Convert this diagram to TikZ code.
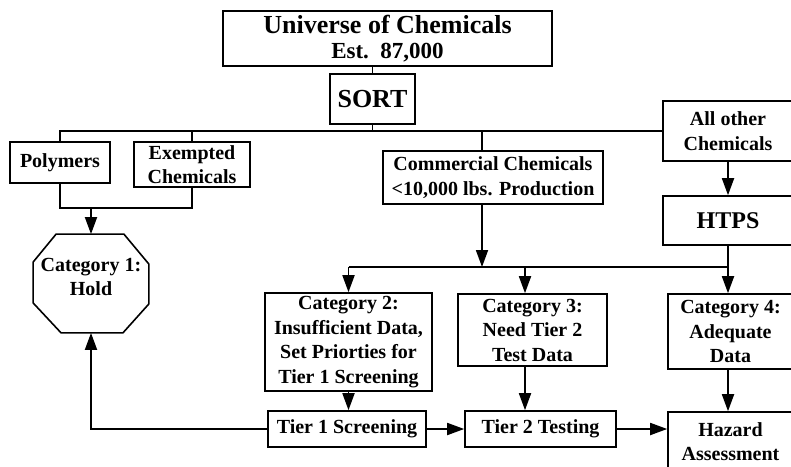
\documentclass[tikz,border=0pt]{standalone}
\usepackage{fontspec}
\setmainfont{Liberation Serif}
\usetikzlibrary{arrows.meta}

\begin{document}
\begin{tikzpicture}[x=1pt, y=-1pt, font=\bfseries\fontsize{20}{24.5}\selectfont, line width=1.8pt,
	blk/.style={draw, line width=1.6pt, inner sep=2pt, align=center},
	arr/.style={-{Triangle[length=17pt, width=12pt]}}]
		\clip (0,0) rectangle (791,466);
		\node[blk, minimum width=329pt, minimum height=55pt] (univ) at (387.5,38.5) {{\fontsize{26}{26}\selectfont Universe of Chemicals}\\{\fontsize{23}{25}\selectfont Est.\ \ 87,000}};
		\node[blk, minimum width=85pt, minimum height=50pt, font=\bfseries\fontsize{26}{26}\selectfont] (sort) at (372.5,99) {SORT};
		\node[blk, minimum width=100pt, minimum height=41pt] (poly) at (60,162.5) {Polymers};
		\node[blk, minimum width=116pt, minimum height=45pt] (exem) at (192,164.5) {Exempted\\Chemicals};
		\node[blk, minimum width=220pt, minimum height=53pt] (comm) at (493,177.5) {Commercial Chemicals\\{<}10,000 lbs. Production};
		\node[blk, minimum width=130pt, minimum height=60pt] (allo) at (728,131) {All other\\Chemicals};
		\node[blk, minimum width=130pt, minimum height=49pt, font=\bfseries\fontsize{24}{24}\selectfont] (htps) at (728,220.5) {HTPS};
		\node[inner sep=2pt, align=center, text depth=13pt, minimum width=114pt, minimum height=97pt] (oct) at (91,283.5) {Category 1:\\Hold};
		\draw[line width=1.6pt] ([xshift=23pt]oct.north west) -- ([xshift=-25pt]oct.north east) -- ([yshift=-30pt]oct.north east)
			-- ([yshift=29pt]oct.south east) -- ([xshift=-26pt]oct.south east) -- ([xshift=28pt]oct.south west)
			-- ([yshift=30pt]oct.south west) -- ([yshift=-28pt]oct.north west) -- cycle;
		\node[blk, minimum width=167pt, minimum height=98pt] (cat2) at (348.5,342) {Category 2:\\Insufficient Data,\\Set Priorties for\\Tier 1 Screening};
		\node[blk, minimum width=149pt, minimum height=72pt] (cat3) at (532.5,330) {Category 3:\\Need Tier 2\\Test Data};
		\node[blk, minimum width=125pt, minimum height=75pt] (cat4) at (730.5,331.5) {Category 4:\\Adequate\\Data};
		\node[blk, minimum width=158pt, minimum height=36pt] (tier1) at (347,429) {Tier 1 Screening};
		\node[blk, minimum width=151pt, minimum height=36pt] (tier2) at (540.5,429) {Tier 2 Testing};
		\node[blk, minimum width=125pt, minimum height=59pt] (hazard) at (730.5,441.5) {Hazard\\Assessment};
		\coordinate (pm) at (91,208);
		\coordinate (jc) at (482,131);
		\coordinate (b2) at (482,267);
		\coordinate (c3) at (525,267);
		\draw (sort.north |- univ.south) -- (sort.north);
		\draw (poly.north) |- (allo.west);
		\draw (exem.north) -- (exem.north |- allo.west);
		\draw (sort.south) -- (sort.south |- allo.west);
		\draw (comm.north -| jc) -- (jc);
		\draw (poly.south) |- (pm) -| (exem.south);
		\draw[arr] (pm) -- (oct.north);
		\draw[arr] (allo.south) -- (htps.north);
		\draw[arr] (comm.south -| b2) -- (b2);
		\draw (cat2.north |- b2) -- (htps.south |- b2) -- (htps.south);
		\draw[arr] (cat2.north |- b2) -- (cat2.north);
		\draw[arr] (c3) -- (cat3.north -| c3);
		\draw[arr] (htps.south |- b2) -- (cat4.north -| htps.south);
		\draw[arr] (cat2.south) -- (tier1.north -| cat2.south);
		\draw[arr] (cat3.south -| c3) -- (tier2.north -| c3);
		\draw[arr] (cat4.south -| htps.south) -- (hazard.north -| htps.south);
		\draw[arr] (tier1) -- (tier2);
		\draw[arr] (tier2.east) -- (tier2.east -| hazard.west);
		\draw[arr] (tier1.west) -| (oct.south);
	\end{tikzpicture}
\end{document}
